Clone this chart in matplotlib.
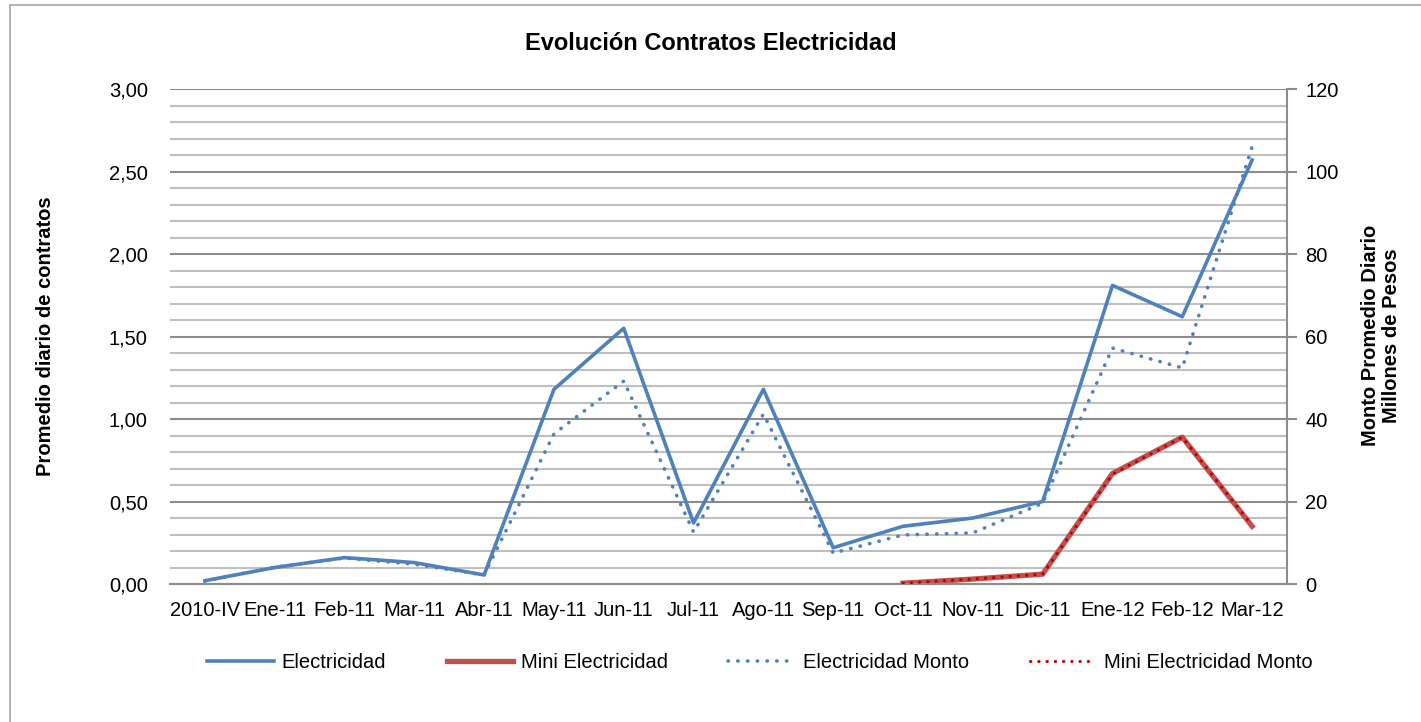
import matplotlib.pyplot as plt
from matplotlib.patches import Rectangle
from matplotlib.ticker import FuncFormatter, MultipleLocator

plt.rcParams["font.family"] = ["Liberation Sans Narrow", "Liberation Sans", "DejaVu Sans"]

months = ["2010-IV", "Ene-11", "Feb-11", "Mar-11", "Abr-11", "May-11", "Jun-11", "Jul-11",
          "Ago-11", "Sep-11", "Oct-11", "Nov-11", "Dic-11", "Ene-12", "Feb-12", "Mar-12"]

# promedio diario de contratos (eje izquierdo)
electricidad = [0.02, 0.10, 0.16, 0.13, 0.055, 1.18, 1.55, 0.37,
                1.18, 0.22, 0.35, 0.40, 0.50, 1.81, 1.62, 2.57]
mini_months = months[10:]
mini = [0.005, 0.03, 0.06, 0.67, 0.89, 0.35]

# monto promedio diario, millones de pesos (eje derecho)
elec_monto = [0.7, 4.1, 6.3, 4.8, 2.2, 36.4, 49.2, 12.6,
              41.2, 7.5, 11.9, 12.4, 19.6, 57.2, 52.4, 106.0]
mini_monto = [0.2, 1.2, 2.4, 26.6, 35.6, 14.2]

BLUE = "#4F81BD"
RED = "#C0504D"
DARKRED = "#C00000"

fig = plt.figure(figsize=(14.21, 7.22), dpi=100)
fig.patches.append(Rectangle((0.007, -0.05), 1.1, 1.043, transform=fig.transFigure,
                             fill=False, edgecolor="#A6A6A6", linewidth=1.2))
ax = fig.add_axes([0.1196, 0.1911, 0.7861, 0.6856])
x = list(range(len(months)))
xm = x[10:]

ax.set_xlim(-0.5, len(months) - 0.5)
ax.set_ylim(0, 3.0)
ax.yaxis.set_major_locator(MultipleLocator(0.5))
ax.yaxis.set_minor_locator(MultipleLocator(0.1))
ax.grid(which="minor", axis="y", color="#BFBFBF", linewidth=1.5)
ax.grid(which="major", axis="y", color="#8C8C8C", linewidth=1.5)
ax.set_axisbelow(True)
ax.yaxis.set_major_formatter(FuncFormatter(lambda v, p: f"{v:.2f}".replace(".", ",")))
for s in ["left", "top", "right"]:
    ax.spines[s].set_visible(False)
ax.spines["bottom"].set_color("#8C8C8C")
ax.spines["bottom"].set_linewidth(1.5)
ax.tick_params(axis="y", which="both", length=0, pad=16, labelsize=14.5)
ax.tick_params(axis="x", length=0, pad=12, labelsize=14.5)
ax.set_xticks(x)
ax.set_xticklabels(months)

l1, = ax.plot(x, electricidad, color=BLUE, linewidth=2.6, label="Electricidad")
l2, = ax.plot(xm, mini, color=RED, linewidth=3.8, label="Mini Electricidad")

ax2 = ax.twinx()
ax2.set_ylim(0, 120)
ax2.yaxis.set_major_locator(MultipleLocator(20))
for s in ["left", "top", "bottom"]:
    ax2.spines[s].set_visible(False)
ax2.spines["right"].set_color("#8C8C8C")
ax2.spines["right"].set_linewidth(1.5)
ax2.tick_params(axis="y", length=7, width=1.5, color="#8C8C8C", pad=6, labelsize=14.5)
dots = (0, (0.1, 2.6))
l3, = ax2.plot(x, elec_monto, color=BLUE, linewidth=2.6, linestyle=dots,
               dash_capstyle="round", label="Electricidad Monto")
l4, = ax2.plot(xm, mini_monto, color=DARKRED, linewidth=2.2, linestyle=dots,
               dash_capstyle="round", label="Mini Electricidad Monto")

fig.text(0.5, 0.94, "Evolución Contratos Electricidad", ha="center", va="center",
         fontsize=17, fontweight="bold")
fig.text(0.032, 0.535, "Promedio diario de contratos", rotation=90, ha="center", va="center",
         fontsize=14.5, fontweight="bold")
fig.text(0.972, 0.535, "Monto Promedio Diario\nMillones de Pesos", rotation=90, ha="center",
         va="center", fontsize=14.5, fontweight="bold", linespacing=1.1)

fig.legend(handles=[l1, l2, l3, l4], loc="center left", bbox_to_anchor=(0.133, 0.082),
           ncol=4, frameon=False, fontsize=14.5, handlelength=3.3, handletextpad=0.4,
           columnspacing=3.0)

fig.savefig("out.png", dpi=100)
